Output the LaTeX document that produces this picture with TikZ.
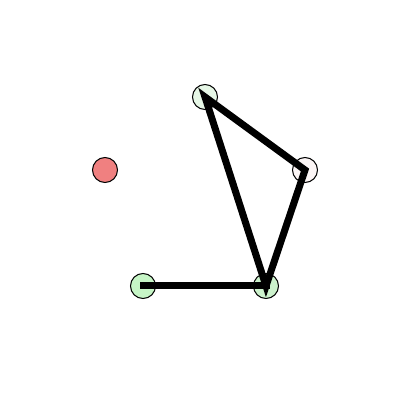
\documentclass[tikz,border=0pt]{standalone}
\begin{document}
\begin{tikzpicture}[x=1pt,y=1pt,
  dot/.style={circle,draw=black,line width=1pt,minimum size=25pt,inner sep=0pt},
  edge/.style={line width=7pt,line cap=rect,line join=miter}]
\useasboundingbox[fill=white] (0,0) rectangle (400,400);
\node[dot,fill={rgb,255:red,230;green,247;blue,230}] (a) at (205,303) {};
\node[dot,fill={rgb,255:red,251;green,245;blue,245}] (b) at (305,230) {};
\node[dot,fill={rgb,255:red,240;green,128;blue,128}] (r) at (105,230) {};
\node[dot,fill={rgb,255:red,198;green,245;blue,198}] (c) at (143,114) {};
\node[dot,fill={rgb,255:red,204;green,242;blue,204}] (d) at (266,114) {};
\draw[edge] (c.center) -- (d.center);
\draw[edge] (a.center) -- (b.center) -- (d.center) -- cycle;
\end{tikzpicture}
\end{document}
